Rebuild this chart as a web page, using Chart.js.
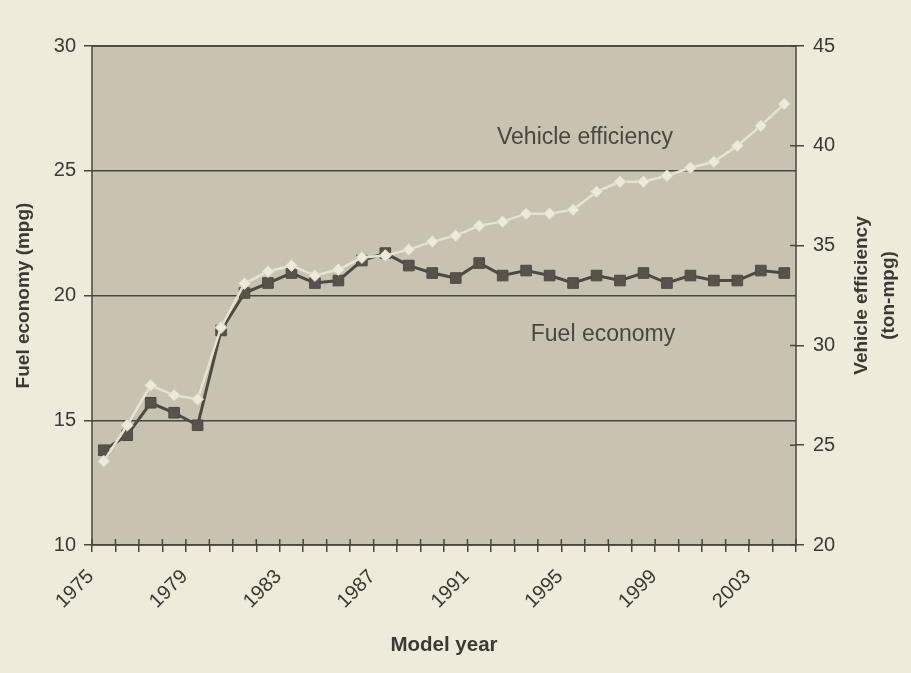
<!DOCTYPE html>
<html>
<head>
<meta charset="utf-8">
<script src="https://cdn.jsdelivr.net/npm/chart.js@4.4.1/dist/chart.umd.min.js"></script>
<style>
  html, body { margin: 0; padding: 0; background: #efebdb; }
</style>
</head>
<body>
<canvas id="grafica" width="911" height="673"></canvas>
<script>
// data
const years = [1975, 1976, 1977, 1978, 1979, 1980, 1981, 1982, 1983, 1984,
               1985, 1986, 1987, 1988, 1989, 1990, 1991, 1992, 1993, 1994,
               1995, 1996, 1997, 1998, 1999, 2000, 2001, 2002, 2003, 2004]
const fuelEconomy = [13.8, 14.4, 15.7, 15.3, 14.8, 18.6, 20.1, 20.5, 20.9, 20.5,
                     20.6, 21.4, 21.7, 21.2, 20.9, 20.7, 21.3, 20.8, 21.0, 20.8,
                     20.5, 20.8, 20.6, 20.9, 20.5, 20.8, 20.6, 20.6, 21.0, 20.9]
const vehicleEfficiency = [24.2, 26.0, 28.0, 27.5, 27.3, 30.9, 33.1, 33.7, 34.0, 33.5,
                           33.8, 34.4, 34.5, 34.8, 35.2, 35.5, 36.0, 36.2, 36.6, 36.6,
                           36.8, 37.7, 38.2, 38.2, 38.5, 38.9, 39.2, 40.0, 41.0, 42.1]
const labelEvery = 4

const ink = '#3b3935'
const lineInk = '#4a4741'
Chart.defaults.font.family = "'Liberation Sans', Arial, sans-serif"
Chart.defaults.color = ink

const fondo = {
    id: 'fondo',
    beforeDraw(chart) {
        const {ctx, chartArea: a} = chart
        ctx.save()
        ctx.fillStyle = '#c8c3b0'
        ctx.fillRect(a.left, a.top, a.right - a.left, a.bottom - a.top)
        ctx.restore()
    },
    beforeDatasetsDraw(chart) {
        const {ctx, chartArea: a} = chart
        const x = chart.scales.x
        const y1 = chart.scales.y1
        ctx.save()
        ctx.strokeStyle = lineInk
        ctx.lineWidth = 1.5
        ctx.strokeRect(a.left, a.top, a.right - a.left, a.bottom - a.top)
        // tick marks poking into the plot
        const step = x.getPixelForValue(1) - x.getPixelForValue(0)
        ctx.beginPath()
        for (let i = 0; i <= years.length; i++) {
            const px = x.getPixelForValue(0) - step / 2 + i * step
            ctx.moveTo(px, a.bottom)
            ctx.lineTo(px, a.bottom - 6)
        }
        y1.ticks.forEach(t => {
            const py = y1.getPixelForValue(t.value)
            ctx.moveTo(a.right, py)
            ctx.lineTo(a.right - 6, py)
        })
        ctx.stroke()
        // labels inside the plot
        ctx.fillStyle = '#4a4640'
        ctx.font = "23px 'Liberation Sans', Arial, sans-serif"
        ctx.textAlign = 'center'
        ctx.textBaseline = 'middle'
        ctx.fillText('Vehicle efficiency', 585, 138)
        ctx.fillText('Fuel economy', 603, 335)
        // right axis title, reading upwards
        ctx.fillStyle = ink
        ctx.font = "bold 19px 'Liberation Sans', Arial, sans-serif"
        ctx.translate(862, (a.top + a.bottom) / 2)
        ctx.rotate(-Math.PI / 2)
        ctx.fillText('Vehicle efficiency', 0, 0)
        ctx.fillText('(ton-mpg)', 0, 27)
        ctx.restore()
    }
}

const $grafica = document.querySelector('#grafica')
new Chart($grafica, {
    type: 'line',
    data: {
        labels: years,
        datasets: [{
            label: 'Vehicle efficiency',
            data: vehicleEfficiency,
            yAxisID: 'y1',
            borderColor: '#e6e3d2',
            borderWidth: 2.5,
            backgroundColor: '#eceadb',
            pointStyle: 'rectRot',
            pointRadius: 6,
            pointBorderColor: '#d6d3c2',
            pointBorderWidth: 1,
            tension: 0
        }, {
            label: 'Fuel economy',
            data: fuelEconomy,
            yAxisID: 'y',
            borderColor: '#4d4a44',
            borderWidth: 3,
            backgroundColor: '#57534c',
            pointStyle: 'rect',
            pointRadius: 7.5,
            pointBorderColor: '#4d4a44',
            pointBorderWidth: 1,
            tension: 0
        }]
    },
    options: {
        responsive: false,
        animation: false,
        layout: { padding: { left: 8, right: 0, top: 46, bottom: 0 } },
        plugins: { legend: { display: false }, tooltip: { enabled: false } },
        scales: {
            x: {
                type: 'category',
                offset: true,
                grid: { offset: true, drawOnChartArea: false, color: lineInk, lineWidth: 1.5, tickLength: 7 },
                border: { display: false },
                ticks: {
                    autoSkip: false,
                    minRotation: 45,
                    maxRotation: 45,
                    labelOffset: -13,
                    padding: 13,
                    font: { size: 20 },
                    color: ink,
                    callback: function (val, i) { return i % labelEvery === 0 ? String(this.getLabelForValue(val)) : '' }
                },
                title: { display: true, text: 'Model year', font: { size: 20.5, weight: 'bold' }, color: ink, padding: { top: 4, bottom: 15 } },
                afterFit(s) { s.height = 128 }
            },
            y: {
                position: 'left',
                min: 10,
                max: 30,
                ticks: { stepSize: 5, font: { size: 20 }, color: ink, padding: 8 },
                grid: { color: lineInk, lineWidth: 1.5, tickLength: 8 },
                border: { display: false },
                title: { display: true, text: 'Fuel economy (mpg)', font: { size: 19, weight: 'bold' }, color: ink, padding: { top: 4, bottom: 4 } },
                afterFit(s) { s.width = 84 }
            },
            y1: {
                position: 'right',
                min: 20,
                max: 45,
                ticks: { stepSize: 5, font: { size: 20 }, color: ink, padding: 9 },
                grid: { drawOnChartArea: false, color: lineInk, lineWidth: 1.5, tickLength: 8 },
                border: { display: false },
                afterFit(s) { s.width = 115 }
            }
        }
    },
    plugins: [fondo]
})
</script>
</body>
</html>
